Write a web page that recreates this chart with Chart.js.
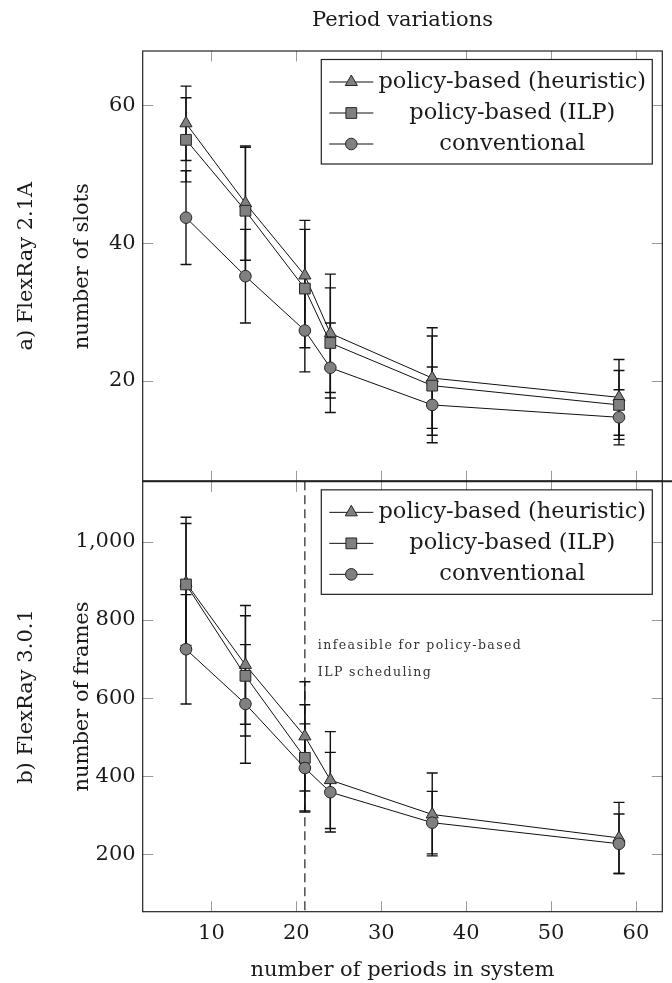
<!DOCTYPE html>
<html>
<head>
<meta charset="utf-8">
<script src="https://cdn.jsdelivr.net/npm/chart.js@4/dist/chart.umd.min.js"></script>
<style>
html,body{margin:0;padding:0;background:#fff;}
#wrap{position:relative;width:672px;height:983px;}
canvas{display:block;}
</style>
</head>
<body>
<div id="wrap"><canvas id="c" width="672" height="983"></canvas></div>
<script>
// ---------- data ----------
const periods = [7, 14, 21, 24, 36, 58];
const seriesNames = ['policy-based (heuristic)', 'policy-based (ILP)', 'conventional'];

// a) FlexRay 2.1A – number of slots
const slotsHeuristic    = [57.4, 45.8, 35.3, 26.9, 20.4, 17.6];
const slotsHeuristicErr = [5.4, 8.3, 8.0, 8.6, 7.3, 5.5];
const slotsILP          = [55.0, 44.7, 33.4, 25.5, 19.3, 16.5];
const slotsILPErr       = [6.1, 9.2, 8.6, 8.0, 7.2, 5.0];
const slotsConv         = [43.7, 35.2, 27.3, 21.9, 16.5, 14.7];
const slotsConvErr      = [6.8, 6.8, 6.0, 6.5, 5.5, 4.0];

// b) FlexRay 3.0.1 – number of frames
const framesHeuristic    = [895, 685, 502, 390, 302, 242];
const framesHeuristicErr = [168, 152, 140, 124, 106, 91];
const framesILP          = [891, 657, 447, null, null, null];
const framesILPErr       = [156, 154, 136, null, null, null];
const framesConv         = [725, 585, 421, 359, 281, 227];
const framesConvErr      = [140, 152, 113, 102, 80, 76];

const infeasibleFrom = 21;
const annotationLines = ['infeasible for policy-based', 'ILP scheduling'];
const chartTitle = 'Period variations';
const xTitle = 'number of periods in system';
const panelTitles = ['a) FlexRay 2.1A', 'b) FlexRay 3.0.1'];
const yTitles = ['number of slots', 'number of frames'];

// axis ranges / ticks
const xRange = [1.9, 63.1], xStep = 10;
const slotsRange = [5.4, 67.9], slotsStep = 20;
const framesRange = [53, 1155], framesStep = 200;

// ---------- styling ----------
const FONT = "'DejaVu Serif', 'Liberation Serif', serif";
const INK = '#1a1a1a';
const markerFill = '#808080';
const markerEdge = '#262626';
const styles = [
  {pointStyle: 'triangle', radius: 7},
  {pointStyle: 'rect', radius: 7.6},
  {pointStyle: 'circle', radius: 5.8}
];

function mkDataset(idx, panel, values, errs, axis) {
  return {
    label: seriesNames[idx],
    data: periods.map((p, i) => ({x: p, y: values[i]})),
    errors: errs,
    panel: panel,
    series: idx,
    yAxisID: axis,
    borderColor: '#111',
    borderWidth: 1,
    backgroundColor: markerFill,
    pointStyle: styles[idx].pointStyle,
    pointRadius: styles[idx].radius,
    pointHoverRadius: styles[idx].radius,
    pointBackgroundColor: markerFill,
    pointBorderColor: markerEdge,
    pointBorderWidth: 1,
    showLine: true,
    fill: false,
    tension: 0,
    order: 2 - idx
  };
}

const datasets = [
  mkDataset(0, 0, slotsHeuristic, slotsHeuristicErr, 'yTop'),
  mkDataset(1, 0, slotsILP, slotsILPErr, 'yTop'),
  mkDataset(2, 0, slotsConv, slotsConvErr, 'yTop'),
  mkDataset(0, 1, framesHeuristic, framesHeuristicErr, 'yBot'),
  mkDataset(1, 1, framesILP, framesILPErr, 'yBot'),
  mkDataset(2, 1, framesConv, framesConvErr, 'yBot')
];

function drawMarker(ctx, style, r, x, y) {
  ctx.beginPath();
  if (style === 'triangle') {
    for (let k = 0; k < 3; k++) {
      const a = -Math.PI / 2 + k * 2 * Math.PI / 3;
      const px = x + Math.cos(a) * r, py = y + Math.sin(a) * r;
      if (k === 0) ctx.moveTo(px, py); else ctx.lineTo(px, py);
    }
    ctx.closePath();
  } else if (style === 'rect') {
    const s = r * Math.SQRT1_2;
    ctx.rect(x - s, y - s, 2 * s, 2 * s);
  } else {
    ctx.arc(x, y, r, 0, Math.PI * 2);
  }
  ctx.fill();
  ctx.stroke();
}

const decor = {
  id: 'decor',
  beforeDatasetsDraw(chart) {
    const ctx = chart.ctx;
    const xs = chart.scales.x, yb = chart.scales.yBot;
    ctx.save();
    // dashed infeasibility line
    ctx.strokeStyle = '#222';
    ctx.lineWidth = 1.2;
    ctx.setLineDash([9, 5]);
    const dx = xs.getPixelForValue(infeasibleFrom);
    ctx.beginPath();
    ctx.moveTo(dx, yb.top);
    ctx.lineTo(dx, yb.bottom);
    ctx.stroke();
    ctx.setLineDash([]);
    // error bars
    ctx.strokeStyle = '#111';
    ctx.lineWidth = 1.4;
    chart.data.datasets.forEach(ds => {
      const ys = chart.scales[ds.yAxisID];
      ds.data.forEach((p, j) => {
        const e = ds.errors[j];
        if (p.y == null || e == null) return;
        const cx = xs.getPixelForValue(p.x);
        const y1 = ys.getPixelForValue(p.y + e);
        const y2 = ys.getPixelForValue(p.y - e);
        ctx.beginPath();
        ctx.moveTo(cx, y1); ctx.lineTo(cx, y2);
        ctx.moveTo(cx - 5.5, y1); ctx.lineTo(cx + 5.5, y1);
        ctx.moveTo(cx - 5.5, y2); ctx.lineTo(cx + 5.5, y2);
        ctx.stroke();
      });
    });
    ctx.restore();
  },
  afterDraw(chart) {
    const ctx = chart.ctx, ca = chart.chartArea, xs = chart.scales.x;
    const panels = [chart.scales.yTop, chart.scales.yBot];
    const TL = 10.5;
    ctx.save();
    // inward ticks on all sides
    ctx.strokeStyle = '#9a9a9a';
    ctx.lineWidth = 1;
    panels.forEach(ys => {
      ctx.beginPath();
      xs.ticks.forEach(t => {
        const px = Math.round(xs.getPixelForValue(t.value)) + 0.5;
        ctx.moveTo(px, ys.top); ctx.lineTo(px, ys.top + TL);
        ctx.moveTo(px, ys.bottom); ctx.lineTo(px, ys.bottom - TL);
      });
      ys.ticks.forEach(t => {
        const py = Math.round(ys.getPixelForValue(t.value)) + 0.5;
        ctx.moveTo(ca.left, py); ctx.lineTo(ca.left + TL, py);
        ctx.moveTo(ca.right, py); ctx.lineTo(ca.right - TL, py);
      });
      ctx.stroke();
    });
    // frames
    ctx.strokeStyle = '#222';
    ctx.lineWidth = 1.2;
    panels.forEach(ys => ctx.strokeRect(ca.left, ys.top, ca.right - ca.left, ys.bottom - ys.top));
    ctx.lineWidth = 2;
    ctx.beginPath();
    ctx.moveTo(ca.left, panels[0].bottom);
    ctx.lineTo(chart.width, panels[0].bottom);
    ctx.stroke();

    // legends
    panels.forEach((ys, k) => {
      const lx0 = ca.right - 341, lx1 = ca.right - 10;
      const ly0 = ys.top + 8.5, ly1 = ys.top + 113;
      ctx.fillStyle = '#fff';
      ctx.fillRect(lx0, ly0, lx1 - lx0, ly1 - ly0);
      ctx.strokeStyle = '#222';
      ctx.lineWidth = 1.2;
      ctx.strokeRect(lx0, ly0, lx1 - lx0, ly1 - ly0);
      chart.data.datasets.filter(d => d.panel === k).forEach(d => {
        const r = d.series;
        const ry = ly0 + 22.5 + r * 31;
        ctx.strokeStyle = '#111';
        ctx.lineWidth = 1;
        ctx.beginPath();
        ctx.moveTo(lx0 + 8, ry); ctx.lineTo(lx0 + 52, ry);
        ctx.stroke();
        ctx.fillStyle = markerFill;
        ctx.strokeStyle = markerEdge;
        drawMarker(ctx, d.pointStyle, d.pointRadius, lx0 + 30, ry);
        ctx.fillStyle = INK;
        ctx.font = '22.5px ' + FONT;
        ctx.textAlign = 'center';
        ctx.textBaseline = 'middle';
        ctx.fillText(d.label, lx0 + 191, ry);
      });
    });

    // annotation
    const yb = chart.scales.yBot;
    ctx.fillStyle = '#333';
    ctx.font = '12.5px ' + FONT;
    ctx.textAlign = 'left';
    ctx.textBaseline = 'alphabetic';
    try { ctx.letterSpacing = '1.4px'; } catch (e) {}
    const ax = xs.getPixelForValue(infeasibleFrom) + 13;
    ctx.fillText(annotationLines[0], ax, yb.top + 168);
    ctx.fillText(annotationLines[1], ax, yb.top + 195);
    try { ctx.letterSpacing = '0px'; } catch (e) {}

    // titles
    ctx.fillStyle = INK;
    ctx.font = '21px ' + FONT;
    ctx.textAlign = 'center';
    ctx.textBaseline = 'alphabetic';
    const cx = (ca.left + ca.right) / 2;
    ctx.fillText(chartTitle, cx, 26);
    ctx.fillText(xTitle, cx, 976);
    panels.forEach((ys, k) => {
      const cy = (ys.top + ys.bottom) / 2;
      [[panelTitles[k], 32], [yTitles[k], 88]].forEach(([s, bx]) => {
        ctx.save();
        ctx.translate(bx, cy);
        ctx.rotate(-Math.PI / 2);
        ctx.fillText(s, 0, 0);
        ctx.restore();
      });
    });
    ctx.restore();
  }
};

Chart.defaults.font.family = FONT;
Chart.defaults.font.size = 21;
Chart.defaults.color = INK;

const tickFont = {family: FONT, size: 21};

new Chart(document.getElementById('c'), {
  type: 'line',
  data: {datasets},
  options: {
    responsive: false,
    animation: false,
    locale: 'en-US',
    layout: {padding: {left: 0, top: 51, right: 9.7, bottom: 0}},
    plugins: {legend: {display: false}, tooltip: {enabled: false}, title: {display: false}},
    scales: {
      x: {
        type: 'linear', position: 'bottom',
        min: xRange[0], max: xRange[1],
        grid: {display: false, drawTicks: false},
        border: {display: false},
        ticks: {stepSize: xStep, includeBounds: false, font: tickFont, color: INK, padding: 9, maxRotation: 0},
        afterFit: s => { s.height = 71.3; }
      },
      yBot: {
        type: 'linear', position: 'left', stack: 'panels', stackWeight: 1,
        min: framesRange[0], max: framesRange[1],
        grid: {display: false, drawTicks: false},
        border: {display: false},
        ticks: {stepSize: framesStep, includeBounds: false, font: tickFont, color: INK, padding: 7},
        afterFit: s => { s.width = 142.7; }
      },
      yTop: {
        type: 'linear', position: 'left', stack: 'panels', stackWeight: 1,
        min: slotsRange[0], max: slotsRange[1],
        grid: {display: false, drawTicks: false},
        border: {display: false},
        ticks: {stepSize: slotsStep, includeBounds: false, font: tickFont, color: INK, padding: 7},
        afterFit: s => { s.width = 142.7; }
      }
    }
  },
  plugins: [decor]
});
</script>
</body>
</html>
